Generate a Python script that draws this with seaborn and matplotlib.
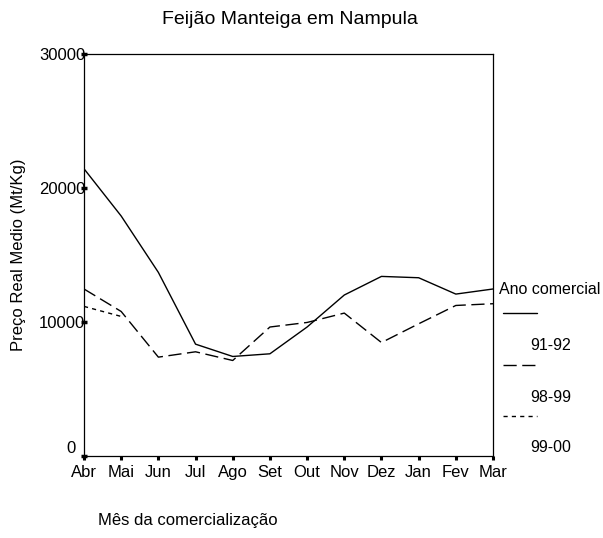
import matplotlib

matplotlib.use("Agg")
import matplotlib.pyplot as plt
import numpy as np
import pandas as pd
import seaborn as sns
from matplotlib.lines import Line2D

# dados (Mt/Kg)
meses = ["Abr", "Mai", "Jun", "Jul", "Ago", "Set", "Out", "Nov", "Dez", "Jan", "Fev", "Mar"]
preco_91_92 = [21430, 17900, 13690, 8330, 7410, 7610, 9610, 12000, 13390, 13290, 12070, 12450]
preco_98_99 = [12450, 10770, 7360, 7760, 7110, 9610, 9950, 10650, 8450, 9850, 11220, 11350]
preco_99_00 = [11150, 10400] + [np.nan] * 10
anos = ["91-92", "98-99", "99-00"]
yticks = [0, 10000, 20000, 30000]
ytick_labels = ["0  ", "10000", "20000", "30000"]

sns.set_style("white")
plt.rcParams["font.family"] = ["Liberation Sans", "DejaVu Sans"]
plt.rcParams["text.color"] = "black"

df = pd.concat(
    [
        pd.DataFrame({"mes": meses, "preco": valores, "ano": ano})
        for ano, valores in zip(anos, [preco_91_92, preco_98_99, preco_99_00])
    ]
).dropna()

estilos = {"91-92": "", "98-99": (9.5, 4), "99-00": (3, 3)}

fig = plt.figure(figsize=(6.03, 5.38), dpi=100)
ax = fig.add_axes([0.1393, 0.153, 0.6783, 0.7466])

sns.lineplot(
    data=df,
    x="mes",
    y="preco",
    style="ano",
    dashes=estilos,
    color="black",
    linewidth=1.0,
    sort=False,
    legend=False,
    ax=ax,
)

ax.set_xlim(0, len(meses) - 1)
ax.set_ylim(0, 30000)
ax.set_xticks(range(len(meses)))
ax.set_xticklabels(meses)
ax.set_yticks(yticks)
ax.set_yticklabels(ytick_labels)
ax.set_xlabel("")
ax.set_ylabel("")

for spine in ax.spines.values():
    spine.set_color("black")
    spine.set_linewidth(0.9)

ax.tick_params(axis="x", bottom=True, direction="out", length=3, width=2.2, pad=4,
               labelsize=12, colors="black", labelcolor="black")
ax.tick_params(axis="y", left=True, direction="inout", length=4, width=2.5, pad=-3,
               labelsize=12, colors="black", labelcolor="black")
ax.get_yticklabels()[0].set_va("bottom")

fig.text(0.481, 0.963, "Feijão Manteiga em Nampula", ha="center", va="center", fontsize=14)
fig.text(0.1625, 0.0316, "Mês da comercialização", ha="left", va="center", fontsize=12)
fig.text(0.03, 0.526, "Preço Real Medio (Mt/Kg)", rotation=90, ha="center", va="center", fontsize=12)

# legenda no estilo SPSS: linha acima do rótulo
fig.text(499 / 603, 1 - 290 / 538, "Ano comercial", ha="left", va="center", fontsize=11.5)
linhas_y = [313, 365, 416]
rotulos_y = [346, 397, 447]
for ano, ly, ry in zip(anos, linhas_y, rotulos_y):
    yl = 1 - ly / 538
    traco = Line2D(
        [503 / 603, 537 / 603], [yl, yl],
        transform=fig.transFigure, color="black", linewidth=1.0,
    )
    if estilos[ano]:
        traco.set_dashes(estilos[ano])
    fig.add_artist(traco)
    fig.text(530 / 603, 1 - ry / 538, ano, ha="left", va="center", fontsize=11.5)

plt.savefig("out.png", dpi=100)
plt.close()
